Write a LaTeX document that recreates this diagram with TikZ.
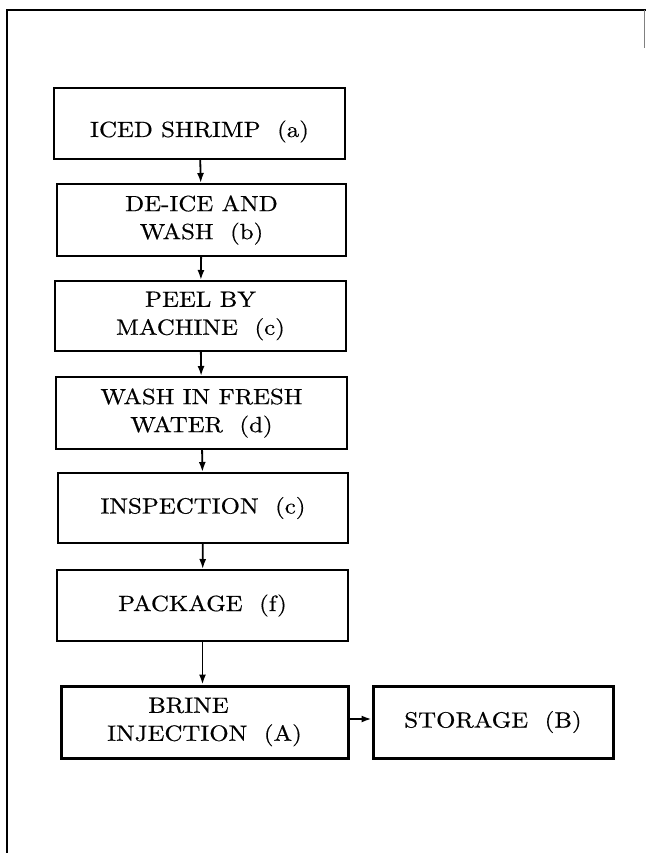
\documentclass[tikz,border=0pt]{standalone}
\usepackage{fontspec}
\setmainfont{lmroman10-regular.otf}[FakeStretch=1.13,FakeBold=0.5]
\usetikzlibrary{arrows.meta,calc}
\begin{document}
\begin{tikzpicture}[x=1pt,y=-1pt,
  box/.style={draw,line width=2pt,rectangle,inner sep=0pt,align=center,
    font=\fontsize{22}{28}\selectfont},
  heavy/.style={box,line width=3pt},
  txt/.style={inner sep=0pt,align=center,font=\fontsize{22}{28}\selectfont},
  arr/.style={line width=1.8pt,-{Latex[length=10pt,width=7pt]}},
  frame/.style={line width=2.4pt}]
\useasboundingbox (0,0) rectangle (646,853);
% outer frame
\coordinate (fbl) at (7,853);
\coordinate (ftl) at (7,10);
\coordinate (ftr) at (646,10);
\coordinate (frt) at (644,10);
\coordinate (frb) at (644,48);
\draw[frame] (fbl) -- (ftl) -- (ftr);
\draw[gray,line width=1pt] (frt) -- (frb);
% boxes
\node[box,minimum width=291pt,minimum height=71pt] (b1) at (199.5,123.5) {};
\node[txt] (t1) at ([yshift=-8pt]b1.center) {ICED SHRIMP\ \ (a)};
\node[box,minimum width=289pt,minimum height=72pt] (b2) at (201.5,220) {DE-ICE\ AND\\WASH\ \ (b)};
\node[box,minimum width=291pt,minimum height=70pt] (b3) at (200.5,316) {PEEL\ BY\\MACHINE\ \ (c)};
\node[box,minimum width=291pt,minimum height=72pt] (b4) at (201.5,413) {WASH\ IN\ FRESH\\WATER\ \ (d)};
\node[box,minimum width=290pt,minimum height=70pt] (b5) at (203,508) {INSPECTION\ \ (c)};
\node[box,minimum width=291pt,minimum height=71pt] (b6) at (202.5,605.5) {PACKAGE\ \ (f)};
\node[heavy,minimum width=287pt,minimum height=72pt] (b7) at (204.5,722) {\hspace*{30pt}BRINE\hspace*{62pt}\\INJECTION\ \ (A)};
\node[heavy,minimum width=240pt,minimum height=72pt] (b8) at (493,722) {STORAGE\ \ (B)};
% connectors
\draw[arr] (b1) -- (b2);
\draw[arr] (b2) -- (b3);
\draw[arr] (b3) -- (b4);
\draw[arr] (b4) -- (b5);
\draw[arr] (b5) -- (b6);
\draw[arr] (b6.south) -- (b6.south |- b7.north);
\draw[arr] ([yshift=3pt]b7.east) -- ([yshift=3pt]b7.east -| b8.west);
\end{tikzpicture}
\end{document}
